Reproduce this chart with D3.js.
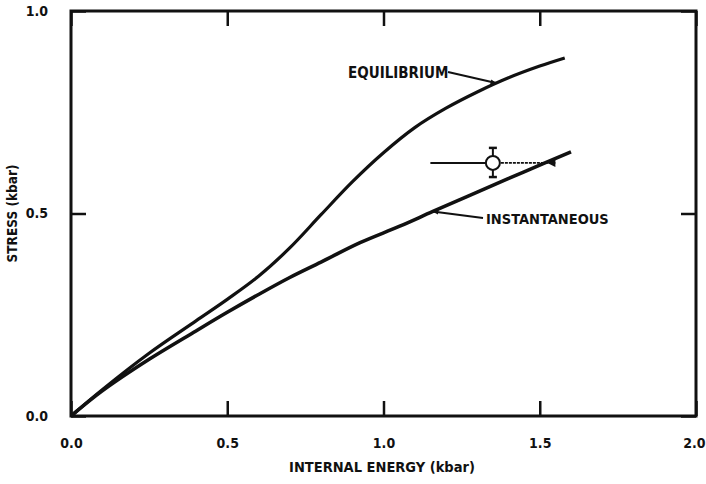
<!DOCTYPE html>
<html>
<head>
<meta charset="utf-8">
<script src="https://cdn.jsdelivr.net/npm/d3@7"></script>
<style>
  html, body { margin: 0; padding: 0; background: #fff; }
  svg text { font-family: "DejaVu Sans Condensed", "Liberation Sans Narrow", "Liberation Sans", Arial, sans-serif; font-weight: bold; fill: #111; }
</style>
</head>
<body>
<svg id="chart" width="706" height="484"></svg>
<script>
// Stress vs internal energy (kbar)
const equilibriumE = [0, 0.1, 0.25, 0.4, 0.5, 0.6, 0.7, 0.8, 0.9, 1.0, 1.1, 1.2, 1.3, 1.4, 1.5, 1.58];
const equilibriumS = [0, 0.065, 0.155, 0.235, 0.288, 0.345, 0.415, 0.497, 0.578, 0.65, 0.712, 0.76, 0.8, 0.835, 0.864, 0.884];

const instantE = [0, 0.1, 0.25, 0.4, 0.5, 0.6, 0.7, 0.8, 0.925, 1.05, 1.158, 1.3, 1.45, 1.6];
const instantS = [0, 0.062, 0.14, 0.21, 0.256, 0.3, 0.342, 0.38, 0.428, 0.468, 0.505, 0.553, 0.603, 0.652];

// measured point with its error ranges
const pointE = 1.35, pointS = 0.625;
const pointErrE = [1.15, 1.55];
const pointErrS = [0.59, 0.662];

const xTicks = [0, 0.5, 1.0, 1.5, 2.0];
const yTicks = [0, 0.5, 1.0];

const svg = d3.select("#chart");
const plotL = 71, plotR = 696, plotT = 11, plotB = 416;

const x = d3.scaleLinear().domain([0, 2]).range([plotL, plotR]);
const y = d3.scaleLinear().domain([0, 1]).range([plotB, plotT]);

const fmt = d3.format(".1f");
const tickLen = 15;

// frame
svg.append("rect")
  .attr("x", plotL).attr("y", plotT)
  .attr("width", plotR - plotL).attr("height", plotB - plotT)
  .attr("fill", "none").attr("stroke", "#111").attr("stroke-width", 3);

// inward ticks on all four sides
const bAxis = svg.append("g").attr("transform", `translate(0,${plotB})`)
  .call(d3.axisBottom(x).tickValues(xTicks).tickSizeInner(-tickLen).tickSizeOuter(0).tickPadding(tickLen + 7).tickFormat(fmt));
const tAxis = svg.append("g").attr("transform", `translate(0,${plotT})`)
  .call(d3.axisTop(x).tickValues(xTicks).tickSizeInner(-tickLen).tickSizeOuter(0).tickFormat(""));
const lAxis = svg.append("g").attr("transform", `translate(${plotL},0)`)
  .call(d3.axisLeft(y).tickValues(yTicks).tickSizeInner(-tickLen).tickSizeOuter(0).tickPadding(tickLen + 8).tickFormat(fmt));
const rAxis = svg.append("g").attr("transform", `translate(${plotR},0)`)
  .call(d3.axisRight(y).tickValues(yTicks).tickSizeInner(-tickLen).tickSizeOuter(0).tickFormat(""));

[bAxis, tAxis, lAxis, rAxis].forEach(g => {
  g.select(".domain").remove();
  g.selectAll(".tick line").attr("stroke", "#111").attr("stroke-width", 2.5);
  g.selectAll("text").attr("font-size", 14).attr("fill", "#111");
  g.attr("font-family", null).attr("font-size", null);
});
// keep the last bottom label inside the page edge
bAxis.selectAll(".tick text").filter(d => d === 2).attr("text-anchor", "end").attr("x", 9);

// axis titles
svg.append("text")
  .attr("x", 382).attr("y", 472)
  .attr("text-anchor", "middle").attr("font-size", 14.5)
  .text("INTERNAL ENERGY (kbar)");
svg.append("text")
  .attr("transform", `translate(17,${(plotT + plotB) / 2}) rotate(-90)`)
  .attr("text-anchor", "middle").attr("font-size", 13.5)
  .text("STRESS (kbar)");

// curves
const line = d3.line().x(d => x(d[0])).y(d => y(d[1])).curve(d3.curveCatmullRom.alpha(0.5));
const eqData = d3.zip(equilibriumE, equilibriumS);
const inData = d3.zip(instantE, instantS);

svg.append("path").datum(eqData).attr("d", line)
  .attr("fill", "none").attr("stroke", "#111").attr("stroke-width", 3.2);
svg.append("path").datum(inData).attr("d", line)
  .attr("fill", "none").attr("stroke", "#111").attr("stroke-width", 3.6);

// arrowhead marker for the curve labels
svg.append("defs").append("marker")
  .attr("id", "arrow").attr("viewBox", "0 0 10 10")
  .attr("refX", 9).attr("refY", 5)
  .attr("markerWidth", 8).attr("markerHeight", 6).attr("orient", "auto")
  .attr("markerUnits", "userSpaceOnUse")
  .append("path").attr("d", "M0,1 L10,5 L0,9 Z").attr("fill", "#111");

// EQUILIBRIUM label and leader
svg.append("text").attr("x", 348).attr("y", 78).attr("font-size", 15).text("EQUILIBRIUM");
svg.append("line")
  .attr("x1", 448).attr("y1", 72)
  .attr("x2", x(1.36)).attr("y2", y(0.822))
  .attr("stroke", "#111").attr("stroke-width", 2).attr("marker-end", "url(#arrow)");

// INSTANTANEOUS label and leader
svg.append("text").attr("x", 486).attr("y", 224).attr("font-size", 14.5).text("INSTANTANEOUS");
svg.append("line")
  .attr("x1", 483).attr("y1", 218)
  .attr("x2", x(1.158)).attr("y2", y(0.505))
  .attr("stroke", "#111").attr("stroke-width", 2).attr("marker-end", "url(#arrow)");

// data point with error bars
const pt = svg.append("g");
pt.append("line")
  .attr("x1", x(pointErrE[0])).attr("x2", x(pointE))
  .attr("y1", y(pointS)).attr("y2", y(pointS))
  .attr("stroke", "#111").attr("stroke-width", 2);
pt.append("line")
  .attr("x1", x(pointE)).attr("x2", x(pointErrE[1]))
  .attr("y1", y(pointS)).attr("y2", y(pointS))
  .attr("stroke", "#111").attr("stroke-width", 1.8).attr("stroke-dasharray", "3,1");
pt.append("path")
  .attr("d", `M${x(pointErrE[1]) - 8},${y(pointS)} l8,-4 l0,8 Z`)
  .attr("fill", "#111");
pt.append("line")
  .attr("x1", x(pointE)).attr("x2", x(pointE))
  .attr("y1", y(pointErrS[0])).attr("y2", y(pointErrS[1]))
  .attr("stroke", "#111").attr("stroke-width", 2);
[pointErrS[0], pointErrS[1]].forEach(v => {
  pt.append("line")
    .attr("x1", x(pointE) - 4).attr("x2", x(pointE) + 4)
    .attr("y1", y(v)).attr("y2", y(v))
    .attr("stroke", "#111").attr("stroke-width", 2.5);
});
pt.append("circle")
  .attr("cx", x(pointE)).attr("cy", y(pointS)).attr("r", 7)
  .attr("fill", "#fff").attr("stroke", "#111").attr("stroke-width", 2);
</script>
</body>
</html>
